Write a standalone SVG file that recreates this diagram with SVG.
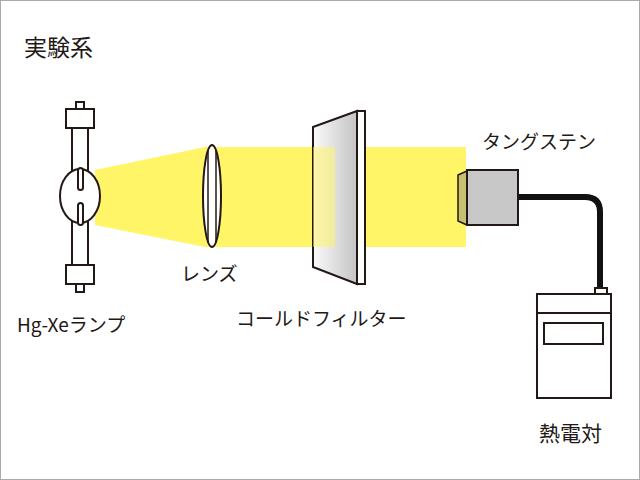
<svg xmlns="http://www.w3.org/2000/svg" width="640" height="480" viewBox="0 0 640 480">
<style>
.o{stroke:#231815;stroke-width:2;fill:#fff}
.t{font-family:"Noto Sans CJK JP","Noto Sans",sans-serif;fill:#231815}
.y{fill:#fff566}
</style>
<defs>
<linearGradient id="g" x1="0" x2="1"><stop offset="0" stop-color="#fafafa"/><stop offset="1" stop-color="#c4c4c4"/></linearGradient>
</defs>
<rect x="0.5" y="0.5" width="639" height="479" fill="#fff" stroke="#aaa"/>
<text class="t" x="24" y="56" font-size="23">実験系</text>
<g id="beam1"><polygon class="y" points="95,170 205,147 335,147 335,247 205,247 95,225"/></g>
<g id="lamp">
<rect class="o" x="76" y="102" width="8" height="8"/>
<rect class="o" x="66" y="109" width="28" height="19"/>
<rect class="o" x="72" y="128" width="16" height="137"/>
<rect class="o" x="66" y="265" width="28" height="19"/>
<rect class="o" x="76" y="284" width="8" height="8"/>
<ellipse class="o" cx="80" cy="196" rx="20" ry="27"/>
<rect class="o" x="78" y="168" width="5" height="22" rx="2.5"/>
<rect class="o" x="78" y="203" width="5" height="22" rx="2.5"/>
</g>
<g id="lens">
<ellipse class="o" cx="212" cy="196" rx="9" ry="51"/>
<line x1="208" y1="150" x2="208" y2="243" stroke="#231815" stroke-width="1.5"/>
<line x1="216" y1="150" x2="216" y2="243" stroke="#231815" stroke-width="1.5"/>
</g>
<g id="filter">
<polygon points="313,127 357,111 357,284 313,267" fill="url(#g)" stroke="#231815" stroke-width="2"/>
<rect x="357" y="111" width="8" height="173" fill="#fff" stroke="#231815" stroke-width="2"/>
<rect x="313" y="147" width="22" height="100" fill="#fff566" opacity="0.55"/>
</g>
<g id="beam2"><rect class="y" x="366" y="147" width="100" height="100"/></g>
<g id="connectors">
<path d="M518,197 H585 Q600,197 600,212 V290" fill="none" stroke="#111" stroke-width="6"/>
</g>
<g id="sensor">
<polygon points="458,175 467,171 467,225 458,221" fill="#c8c070" stroke="#231815" stroke-width="1.5"/>
<rect x="467" y="170" width="51" height="55" fill="#c8c8c8" stroke="#231815" stroke-width="2"/>
</g>
<g id="meter">
<rect class="o" x="595" y="288" width="12" height="6"/>
<rect class="o" x="537" y="294" width="74" height="104"/>
<line x1="537" y1="313" x2="611" y2="313" stroke="#231815" stroke-width="2"/>
<rect class="o" x="544" y="323" width="59" height="21"/>
</g>
<text class="t" x="17" y="332" font-size="19">Hg-Xeランプ</text>
<text class="t" x="181" y="281" font-size="19">レンズ</text>
<text class="t" x="236" y="326" font-size="19">コールドフィルター</text>
<text class="t" x="482" y="149" font-size="19">タングステン</text>
<text class="t" x="539" y="441" font-size="21">熱電対</text>
</svg>
